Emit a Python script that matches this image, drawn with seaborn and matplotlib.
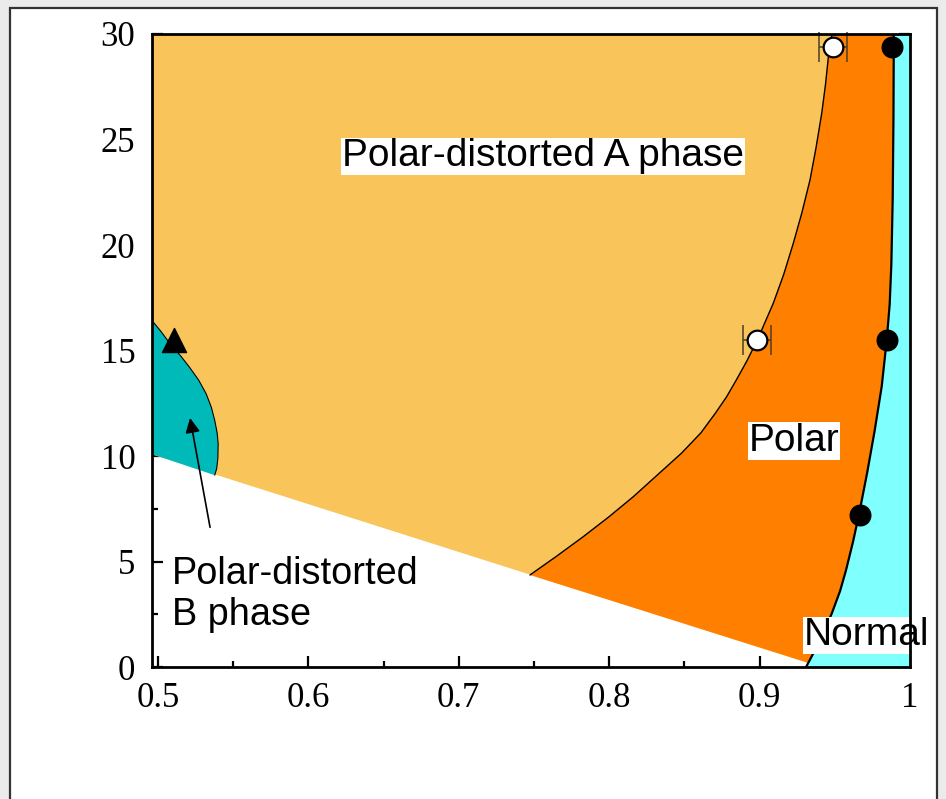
import numpy as np
import pandas as pd
import matplotlib
matplotlib.use("Agg")
import matplotlib.pyplot as plt
from matplotlib.patches import Rectangle
from matplotlib.ticker import MultipleLocator
import seaborn as sns

# ---------------- data ----------------
# lower boundary (white region below)
low_x = [0.496, 0.9324, 1.000]
low_y = [10.09, 0.20, 0.0]

# Polar-distorted A / Polar boundary
pda_x = [0.7473, 0.765, 0.7828, 0.7995, 0.816, 0.832, 0.848, 0.861, 0.8705, 0.878,
         0.8845, 0.8915, 0.8985, 0.9091, 0.916, 0.9224, 0.928, 0.9335, 0.9375, 0.9413,
         0.9438, 0.9457, 0.9470, 0.9480]
pda_y = [4.36, 5.25, 6.18, 7.1, 8.07, 9.1, 10.13, 11.1, 12.02, 12.8,
         13.6, 14.5, 15.5, 17.24, 18.6, 20.08, 21.5, 23.08, 24.6, 26.24,
         27.6, 28.9, 29.4, 30.0]

# Polar / Normal boundary
nor_x = [0.9309, 0.9324, 0.9405, 0.948, 0.9535, 0.9575, 0.962, 0.966, 0.9715, 0.9765,
         0.9812, 0.9845, 0.9865, 0.9876, 0.9885, 0.989, 0.9892, 0.9892]
nor_y = [0.0, 0.2, 1.3, 2.54, 3.6, 4.6, 5.9, 7.2, 9.2, 11.2,
         13.3, 15.47, 17.2, 19.1, 22.2, 26.0, 29.3, 30.0]

# Polar-distorted B boundary
pdb_x = [0.496, 0.502, 0.508, 0.515, 0.521, 0.527, 0.532, 0.5355, 0.5377, 0.5393,
         0.540, 0.5398, 0.539, 0.5377]
pdb_y = [16.42, 15.9, 15.32, 14.75, 14.2, 13.6, 12.95, 12.3, 11.69, 11.1,
         10.59, 9.9, 9.4, 9.09]

# measured points
open_x = [0.8985, 0.949]
open_y = [15.5, 29.4]
open_err = [0.0093, 0.0093]
fill_x = [0.9665, 0.985, 0.988]
fill_y = [7.2, 15.5, 29.4]
tri_x = [0.5106]
tri_y = [15.5]

xticks = [0.5, 0.6, 0.7, 0.8, 0.9, 1.0]
xtick_labels = ["0.5", "0.6", "0.7", "0.8", "0.9", "1"]
yticks = [0, 5, 10, 15, 20, 25, 30]
ytick_labels = ["0", "5", "10", "15", "20", "25", "30"]

C_PDA = "#F9C55B"
C_POL = "#FF8000"
C_NOR = "#80FFFF"
C_PDB = "#00BABA"

# ---------------- figure ----------------
sns.set_style("ticks")
plt.rcParams["font.family"] = ["Liberation Serif", "DejaVu Serif"]

fig = plt.figure(figsize=(9.46, 7.99), dpi=100)
fig.patch.set_facecolor("#ebebeb")
fig.add_artist(Rectangle((10 / 946, -0.02), (937 - 10) / 946, 1.02 - 8 / 799,
                         transform=fig.transFigure, facecolor="white",
                         edgecolor="#333333", lw=1.6, zorder=-10))

ax = fig.add_axes([152 / 946, 1 - 667 / 799, (910 - 152) / 946, (667 - 34) / 799])
ax.set_xlim(0.496, 1.0)
ax.set_ylim(0, 30)
ax.set_facecolor("white")

# PdA region: everything above the lower boundary
ax.fill_between(low_x, low_y, 30, color=C_PDA, lw=0, zorder=1)

# Polar region polygon
pol_x = np.concatenate([np.array(pda_x), np.array(nor_x)[::-1][:-1]])
pol_y = np.concatenate([np.array(pda_y), np.array(nor_y)[::-1][:-1]])
ax.fill(pol_x, pol_y, color=C_POL, lw=0, zorder=2)

# Normal region polygon
nx = np.concatenate([np.array(nor_x), [1.0, 1.0]])
ny = np.concatenate([np.array(nor_y), [30.0, 0.0]])
ax.fill(nx, ny, color=C_NOR, lw=0, zorder=2)

# PdB region polygon
bx = np.concatenate([np.array(pdb_x), [0.496]])
by = np.concatenate([np.array(pdb_y), [low_y[0]]])
ax.fill(bx, by, color=C_PDB, lw=0, zorder=2)

# boundary lines
sns.lineplot(x=pda_x, y=pda_y, sort=False, estimator=None, color="black", lw=1.0, ax=ax, zorder=3)
sns.lineplot(x=nor_x, y=nor_y, sort=False, estimator=None, color="black", lw=1.6, ax=ax, zorder=3)
sns.lineplot(x=pdb_x, y=pdb_y, sort=False, estimator=None, color="black", lw=0.8, ax=ax, zorder=3)

# markers
ax.errorbar(open_x, open_y, xerr=open_err, fmt="none", ecolor="#4a3f2a",
            elinewidth=1.1, capsize=11, capthick=1.1, zorder=4, clip_on=False)
sns.scatterplot(x=open_x, y=open_y, s=200, color="white", edgecolor="black",
                linewidth=1.6, ax=ax, zorder=5, clip_on=False)
sns.scatterplot(x=fill_x, y=fill_y, s=220, color="black", edgecolor="black",
                linewidth=1, ax=ax, zorder=5, clip_on=False)
sns.scatterplot(x=tri_x, y=tri_y, s=300, marker="^", color="black",
                edgecolor="black", linewidth=1, ax=ax, zorder=5)

# labels
tfont = dict(family=["Liberation Sans", "DejaVu Sans"], color="black")
box = dict(boxstyle="square,pad=0.02", facecolor="white", edgecolor="none")
ax.text(0.756, 24.2, "Polar-distorted A phase", ha="center", va="center", bbox=box,
        zorder=6, fontsize=28, **tfont)
ax.text(0.9229, 10.7, "Polar", ha="center", va="center", bbox=box, zorder=6, fontsize=28, **tfont)
ax.text(0.9714, 1.5, "Normal", ha="center", va="center", bbox=box, zorder=6, clip_on=False,
        fontsize=28, **tfont)
ax.text(0.5093, 3.42, "Polar-distorted\nB phase", ha="left", va="center", zorder=6,
        linespacing=1.17, fontsize=27.3, **tfont)
ax.annotate("", xy=(0.5213, 11.8), xytext=(0.5346, 6.62),
            arrowprops=dict(arrowstyle="-|>", color="black", lw=1.2, mutation_scale=22,
                            shrinkA=0, shrinkB=0), zorder=6)

# axes styling
ax.set_xticks(xticks)
ax.set_xticklabels(xtick_labels)
ax.set_yticks(yticks)
ax.set_yticklabels(ytick_labels)
ax.xaxis.set_minor_locator(MultipleLocator(0.05))
ax.yaxis.set_minor_locator(MultipleLocator(2.5))
ax.tick_params(which="both", direction="in", top=True, right=True, color="black",
               width=1.6, labelcolor="black")
ax.tick_params(which="major", length=8, labelsize=25)
ax.tick_params(which="minor", length=4.5)
ax.tick_params(axis="x", which="major", pad=11)
ax.tick_params(axis="y", which="major", pad=12)
for sp in ax.spines.values():
    sp.set_linewidth(2.0)
    sp.set_color("black")
    sp.set_zorder(7)
ax.set_xlabel("")
ax.set_ylabel("")

fig.savefig("out.png", dpi=100, facecolor=fig.get_facecolor())
